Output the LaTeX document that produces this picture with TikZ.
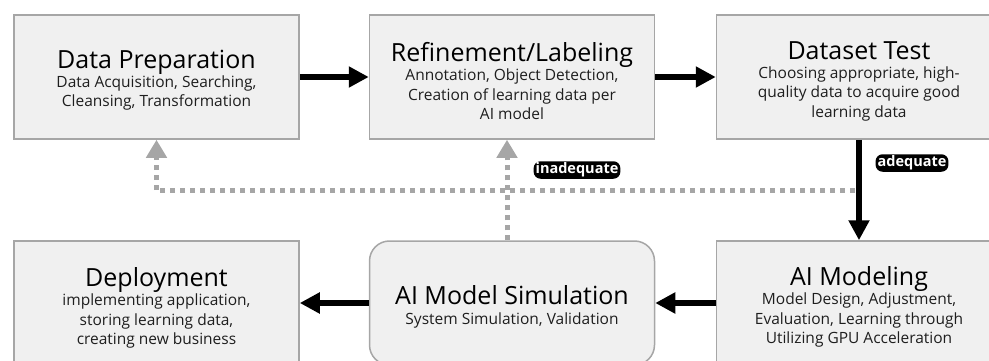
\documentclass[tikz,border=0pt]{standalone}
\usepackage{fontspec}
\setmainfont{Open Sans}
\usetikzlibrary{arrows.meta}
\definecolor{boxfill}{HTML}{F0F0F0}
\definecolor{boxline}{HTML}{A6A6A6}
\definecolor{dashgray}{HTML}{A6A6A6}
\definecolor{subtext}{HTML}{1E1E1E}
\newcommand{\bt}[1]{{\fontsize{25}{27}\selectfont\color{black}#1}}
\begin{document}
\begin{tikzpicture}[x=1pt,y=-1pt,
  box/.style={draw=boxline, line width=1.5pt, fill=boxfill, minimum width=285pt, minimum height=124pt, inner sep=0pt},
  rbox/.style={box, rounded corners=20pt},
  boxtext/.style={align=center, inner sep=0pt, text=subtext, font=\fontsize{15.5}{19.3}\selectfont},
  bigarrow/.style={line width=6pt, -{Triangle[length=20pt,width=20pt]}},
  backarrow/.style={dashgray, line width=5pt, dash pattern=on 5pt off 5pt, -{Triangle[length=18pt,width=20pt]}},
  backline/.style={dashgray, line width=5pt, dash pattern=on 5pt off 5pt},
  glowlabel/.style={fill=black, text=white, rounded corners=7pt, inner xsep=2pt, inner ysep=1.5pt, font=\fontsize{14.5}{16}\selectfont\bfseries}]
\useasboundingbox (0,0) rectangle (989,361);
\clip (0,0) rectangle (989,361);

\node[box] (dp) at (156.5,77) {};
\node[box] (ref) at (512,77) {};
\node[box] (dt) at (859,77) {};
\node[box] (dep) at (156.5,303) {};
\node[rbox] (sim) at (512,303) {};
\node[box] (aim) at (859,303) {};

\node[boxtext] (dpT) at ([yshift=-3pt]dp.center) {\bt{Data Preparation}\\Data Acquisition, Searching,\\Cleansing, Transformation};
\node[boxtext] (refT) at ([yshift=-4pt]ref.center) {\bt{Refinement/Labeling}\\Annotation, Object Detection,\\Creation of learning data per\\AI model};
\node[boxtext] (dtT) at ([yshift=-4pt]dt.center) {\bt{Dataset Test}\\Choosing appropriate, high-\\quality data to acquire good\\learning data};
\node[boxtext] (depT) at ([yshift=-5pt]dep.center) {\bt{Deployment}\\implementing application,\\storing learning data,\\creating new business};
\node[boxtext] (simT) at ([yshift=-4pt]sim.center) {\bt{AI Model Simulation}\\System Simulation, Validation};
\node[boxtext] (aimT) at ([yshift=-4pt]aim.center) {\bt{AI Modeling}\\Model Design, Adjustment,\\Evaluation, Learning through\\Utilizing GPU Acceleration};

\draw[bigarrow] (dp) -- (ref);
\draw[bigarrow] (ref) -- (dt);
\draw[bigarrow] (dt) -- (aim);
\draw[bigarrow] (aim) -- (sim);
\draw[bigarrow] (sim) -- (dep);

\coordinate (j) at (855,190);
\draw[backline] (j) -- (j -| dp.south);
\draw[backarrow] (dp.south |- j) -- (dp.south);
\draw[backarrow] ([xshift=-5pt]sim.north) -- ([xshift=-5pt]ref.south);

\node[glowlabel] (inad) at (577,170) {inadequate};
\node[glowlabel] (adeq) at (912,163) {adequate};
\end{tikzpicture}
\end{document}
